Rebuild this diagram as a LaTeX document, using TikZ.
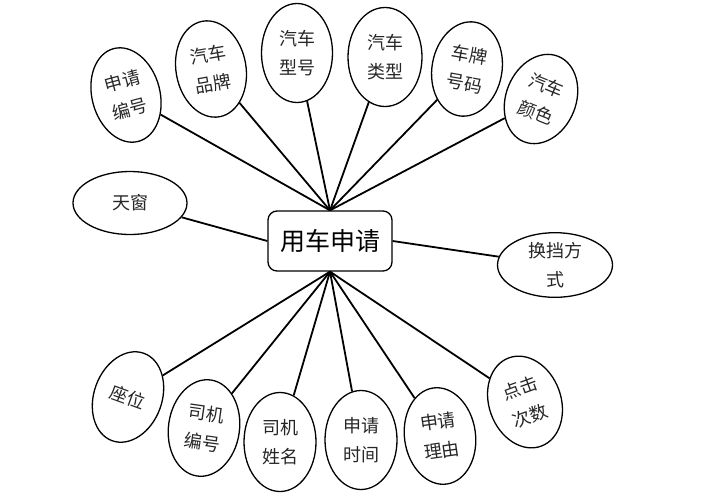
\documentclass[tikz,border=0pt]{standalone}
\usepackage{fontspec}
\newfontfamily\cjk{Noto Sans CJK SC}
\usetikzlibrary{shapes.geometric}
\begin{document}
\begin{tikzpicture}[x=1pt,y=-1pt,
  attr/.style={draw=black,line width=1.3pt,ellipse,inner sep=0pt,
    minimum width=71pt,minimum height=97pt,align=center,
    font=\cjk\fontsize{18}{29}\selectfont,text=black!85},
  ent/.style={draw=black,line width=1.3pt,rounded corners=9pt,
    minimum width=124pt,minimum height=60pt,inner sep=0pt,
    font=\cjk\fontsize{25}{28}\selectfont},
  link/.style={line width=1.8pt}]
\useasboundingbox (0,0) rectangle (708,498);
\node[ent] (c) at (330,241) {用车申请};
\node[attr,rotate=15,minimum width=68pt,minimum height=96pt] (e1) at (126,95) {申请\\编号};
\node[attr,rotate=10,minimum width=70pt] (e2) at (211,69) {汽车\\品牌};
\node[attr,minimum height=99pt] (e3) at (297,53) {汽车\\型号};
\node[attr,minimum width=74pt,minimum height=99pt] (e4) at (385,57) {汽车\\类型};
\node[attr,rotate=-10,minimum width=70pt,minimum height=95pt] (e5) at (467,69) {车牌\\号码};
\node[attr,rotate=-22,minimum width=70pt,minimum height=92pt] (e6) at (541,99) {汽车\\颜色};
\node[attr,minimum width=114pt,minimum height=63pt] (e7) at (130,203) {天窗};
\node[attr,minimum width=115pt,minimum height=63pt] (e8) at (555,265) {换挡方\\式};
\node[attr,rotate=-20,minimum width=68pt,minimum height=93pt] (e9) at (128,397) {座位};
\node[attr,rotate=-8,minimum width=71pt,minimum height=97pt] (e10) at (204,428) {司机\\编号};
\node[attr,minimum width=72pt,minimum height=99pt] (e11) at (280,442) {司机\\姓名};
\node[attr,minimum width=72pt,minimum height=99pt] (e12) at (361,440) {申请\\时间};
\node[attr,rotate=8,minimum width=71pt,minimum height=97pt] (e13) at (440,436) {申请\\理由};
\node[attr,rotate=20,minimum width=72pt,minimum height=94pt] (e14) at (525,402) {点击\\次数};
\foreach \e in {e1,e2,e3,e4,e5,e6} \draw[link] (c.north) -- (\e);
\foreach \e in {e9,e10,e11,e12,e13,e14} \draw[link] (c.south) -- (\e);
\draw[link] (e7) -- (c.west);
\draw[link] (c.east) -- (e8);
\end{tikzpicture}
\end{document}
